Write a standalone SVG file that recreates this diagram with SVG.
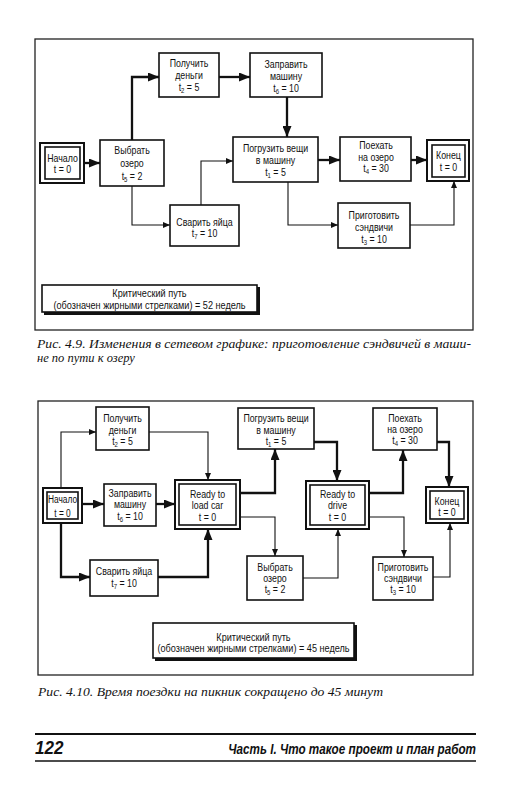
<svg xmlns="http://www.w3.org/2000/svg" width="509" height="800" viewBox="0 0 509 800">
<defs>
<style>
.bg{fill:#fff}
.frame{fill:none;stroke:#222;stroke-width:1.3}
.box{fill:#fff;stroke:#111;stroke-width:1.6}
.outer{fill:#fff;stroke:#111;stroke-width:2}
.inner{fill:none;stroke:#111;stroke-width:1.6}
.t{font-family:"Liberation Sans Narrow","Liberation Sans",Arial,sans-serif;font-size:11px;fill:#111;text-anchor:middle}
.sub{font-size:7.5px}
.thick{fill:none;stroke:#111;stroke-width:2.3}
.thin{fill:none;stroke:#111;stroke-width:1.1}
.cap{font-family:"Liberation Serif","Times New Roman",serif;font-style:italic;font-size:12.5px;fill:#111}
.foot{font-family:"Liberation Sans",Arial,sans-serif;font-style:italic;font-weight:bold;fill:#111}
</style>
<marker id="ah" markerUnits="userSpaceOnUse" markerWidth="11" markerHeight="9" refX="11" refY="4.5" orient="auto"><path d="M0,0 L11,4.5 L0,9 Z" fill="#111"/></marker>
<marker id="as" markerUnits="userSpaceOnUse" markerWidth="7" markerHeight="6" refX="7" refY="3" orient="auto"><path d="M0,0 L7,3 L0,6 Z" fill="#111"/></marker>
</defs>
<rect class="bg" x="0" y="0" width="509" height="800"/>

<!-- ===== Figure 4.9 ===== -->
<rect class="frame" x="35" y="39" width="438" height="291"/>

<g id="connectors1">
<path class="thick" d="M84,163 H100" marker-end="url(#ah)"/>
<path class="thick" d="M132,140 V77 H159" marker-end="url(#ah)"/>
<path class="thick" d="M219,77 H250" marker-end="url(#ah)"/>
<path class="thick" d="M287,97 V137" marker-end="url(#ah)"/>
<path class="thick" d="M318,160 H340" marker-end="url(#ah)"/>
<path class="thick" d="M411,160 H427" marker-end="url(#ah)"/>
<path class="thin" d="M132,186 V225 H170" marker-end="url(#as)"/>
<path class="thin" d="M201,205 V161 H233" marker-end="url(#as)"/>
<path class="thin" d="M288,182 V225 H338" marker-end="url(#as)"/>
<path class="thin" d="M410,225 H454 V181" marker-end="url(#as)"/>
</g>

<g id="n1-start">
<rect class="outer" x="40" y="143" width="44" height="40"/>
<rect class="inner" x="45" y="147" width="35" height="32"/>
<text class="t" transform="translate(62.5 0) scale(0.8 1)" y="162">Начало</text>
<text class="t" transform="translate(62.5 0) scale(0.8 1)" y="173">t = 0</text>
</g>
<g id="n1-choose">
<rect class="box" x="100" y="140" width="64" height="46"/>
<text class="t" transform="translate(132 0) scale(0.8 1)" y="154">Выбрать</text>
<text class="t" transform="translate(132 0) scale(0.8 1)" y="167">озеро</text>
<text class="t" transform="translate(132 0) scale(0.8 1)" y="180">t<tspan class="sub" dy="2">5</tspan><tspan dy="-2"> = 2</tspan></text>
</g>
<g id="n1-money">
<rect class="box" x="159" y="53" width="60" height="44"/>
<text class="t" transform="translate(189 0) scale(0.8 1)" y="67">Получить</text>
<text class="t" transform="translate(189 0) scale(0.8 1)" y="79">деньги</text>
<text class="t" transform="translate(189 0) scale(0.8 1)" y="91">t<tspan class="sub" dy="2">2</tspan><tspan dy="-2"> = 5</tspan></text>
</g>
<g id="n1-fuel">
<rect class="box" x="250" y="53" width="72" height="44"/>
<text class="t" transform="translate(286 0) scale(0.8 1)" y="68">Заправить</text>
<text class="t" transform="translate(286 0) scale(0.8 1)" y="80">машину</text>
<text class="t" transform="translate(286 0) scale(0.8 1)" y="92">t<tspan class="sub" dy="2">6</tspan><tspan dy="-2"> = 10</tspan></text>
</g>
<g id="n1-load">
<rect class="box" x="233" y="137" width="85" height="45"/>
<text class="t" transform="translate(275.5 0) scale(0.8 1)" y="152">Погрузить вещи</text>
<text class="t" transform="translate(275.5 0) scale(0.8 1)" y="164">в машину</text>
<text class="t" transform="translate(275.5 0) scale(0.8 1)" y="176">t<tspan class="sub" dy="2">1</tspan><tspan dy="-2"> = 5</tspan></text>
</g>
<g id="n1-drive">
<rect class="box" x="340" y="137" width="71" height="44"/>
<text class="t" transform="translate(376 0) scale(0.8 1)" y="149">Поехать</text>
<text class="t" transform="translate(376 0) scale(0.8 1)" y="161">на озеро</text>
<text class="t" transform="translate(376 0) scale(0.8 1)" y="172">t<tspan class="sub" dy="2">4</tspan><tspan dy="-2"> = 30</tspan></text>
</g>
<g id="n1-end">
<rect class="outer" x="427" y="140" width="42" height="41"/>
<rect class="inner" x="432" y="145" width="33" height="32"/>
<text class="t" transform="translate(448.5 0) scale(0.8 1)" y="159">Конец</text>
<text class="t" transform="translate(448.5 0) scale(0.8 1)" y="171">t = 0</text>
</g>
<g id="n1-eggs">
<rect class="box" x="170" y="205" width="69" height="41"/>
<text class="t" transform="translate(204.5 0) scale(0.8 1)" y="226">Сварить яйца</text>
<text class="t" transform="translate(204.5 0) scale(0.8 1)" y="237">t<tspan class="sub" dy="2">7</tspan><tspan dy="-2"> = 10</tspan></text>
</g>
<g id="n1-sandw">
<rect class="box" x="338" y="203" width="72" height="45"/>
<text class="t" transform="translate(374 0) scale(0.8 1)" y="219">Приготовить</text>
<text class="t" transform="translate(374 0) scale(0.8 1)" y="231">сэндвичи</text>
<text class="t" transform="translate(374 0) scale(0.8 1)" y="243">t<tspan class="sub" dy="2">3</tspan><tspan dy="-2"> = 10</tspan></text>
</g>
<g id="n1-crit">
<rect x="44" y="287" width="216" height="28" fill="#111"/>
<rect class="box" x="42" y="285" width="215" height="27"/>
<text class="t" transform="translate(149.5 0) scale(0.83 1)" y="297.5">Критический путь</text>
<text class="t" transform="translate(149.5 0) scale(0.83 1)" y="309.5">(обозначен жирными стрелками) = 52 недель</text>
</g>

<text class="cap" x="37" y="348" textLength="434" lengthAdjust="spacingAndGlyphs">Рис. 4.9. Изменения в сетевом графике: приготовление сэндвичей в маши-</text>
<text class="cap" x="37" y="362">не по пути к озеру</text>

<!-- ===== Figure 4.10 ===== -->
<rect class="frame" x="38" y="401" width="435" height="274"/>

<g id="connectors2">
<path class="thick" d="M82,504 H104" marker-end="url(#ah)"/>
<path class="thick" d="M156,504 H175" marker-end="url(#ah)"/>
<path class="thick" d="M61,523 V577 H90" marker-end="url(#ah)"/>
<path class="thick" d="M158,577 H208 V529" marker-end="url(#ah)"/>
<path class="thick" d="M240,493 H275 V449" marker-end="url(#ah)"/>
<path class="thick" d="M314,442 H337 V481" marker-end="url(#ah)"/>
<path class="thick" d="M369,493 H403 V450" marker-end="url(#ah)"/>
<path class="thick" d="M437,442 H449 V487" marker-end="url(#ah)"/>
<path class="thin" d="M61,488 V432 H96" marker-end="url(#as)"/>
<path class="thin" d="M149,432 H208 V480" marker-end="url(#as)"/>
<path class="thin" d="M240,517 H275 V556" marker-end="url(#as)"/>
<path class="thin" d="M303,578 H338 V529" marker-end="url(#as)"/>
<path class="thin" d="M369,517 H404 V557" marker-end="url(#as)"/>
<path class="thin" d="M433,577 H450 V523" marker-end="url(#as)"/>
</g>

<g id="n2-money">
<rect class="box" x="96" y="407" width="53" height="43"/>
<text class="t" transform="translate(122.5 0) scale(0.8 1)" y="422">Получить</text>
<text class="t" transform="translate(122.5 0) scale(0.8 1)" y="434">деньги</text>
<text class="t" transform="translate(122.5 0) scale(0.8 1)" y="445">t<tspan class="sub" dy="2">2</tspan><tspan dy="-2"> = 5</tspan></text>
</g>
<g id="n2-start">
<rect class="outer" x="43" y="488" width="39" height="35"/>
<rect class="inner" x="47" y="492" width="31" height="27"/>
<text class="t" transform="translate(62.5 0) scale(0.76 1)" y="503">Начало</text>
<text class="t" transform="translate(62.5 0) scale(0.76 1)" y="517">t = 0</text>
</g>
<g id="n2-fuel">
<rect class="box" x="104" y="484" width="52" height="42"/>
<text class="t" transform="translate(130 0) scale(0.8 1)" y="497">Заправить</text>
<text class="t" transform="translate(130 0) scale(0.8 1)" y="508">машину</text>
<text class="t" transform="translate(130 0) scale(0.8 1)" y="520">t<tspan class="sub" dy="2">6</tspan><tspan dy="-2"> = 10</tspan></text>
</g>
<g id="n2-readyload">
<rect class="outer" x="175" y="480" width="65" height="49"/>
<rect class="inner" x="179" y="484" width="57" height="41"/>
<text class="t" transform="translate(207.5 0) scale(0.8 1)" y="498">Ready to</text>
<text class="t" transform="translate(207.5 0) scale(0.8 1)" y="509">load car</text>
<text class="t" transform="translate(207.5 0) scale(0.8 1)" y="521">t = 0</text>
</g>
<g id="n2-eggs">
<rect class="box" x="90" y="560" width="68" height="36"/>
<text class="t" transform="translate(124 0) scale(0.8 1)" y="575">Сварить яйца</text>
<text class="t" transform="translate(124 0) scale(0.8 1)" y="587">t<tspan class="sub" dy="2">7</tspan><tspan dy="-2"> = 10</tspan></text>
</g>
<g id="n2-load">
<rect class="box" x="238" y="408" width="76" height="41"/>
<text class="t" transform="translate(276 0) scale(0.8 1)" y="422">Погрузить вещи</text>
<text class="t" transform="translate(276 0) scale(0.8 1)" y="434">в машину</text>
<text class="t" transform="translate(276 0) scale(0.8 1)" y="445">t<tspan class="sub" dy="2">1</tspan><tspan dy="-2"> = 5</tspan></text>
</g>
<g id="n2-choose">
<rect class="box" x="247" y="556" width="56" height="44"/>
<text class="t" transform="translate(275 0) scale(0.8 1)" y="571">Выбрать</text>
<text class="t" transform="translate(275 0) scale(0.8 1)" y="582">озеро</text>
<text class="t" transform="translate(275 0) scale(0.8 1)" y="593">t<tspan class="sub" dy="2">5</tspan><tspan dy="-2"> = 2</tspan></text>
</g>
<g id="n2-readydrive">
<rect class="outer" x="306" y="481" width="63" height="48"/>
<rect class="inner" x="310" y="485" width="55" height="40"/>
<text class="t" transform="translate(337.5 0) scale(0.8 1)" y="498">Ready to</text>
<text class="t" transform="translate(337.5 0) scale(0.8 1)" y="509">drive</text>
<text class="t" transform="translate(337.5 0) scale(0.8 1)" y="521">t = 0</text>
</g>
<g id="n2-drive">
<rect class="box" x="373" y="408" width="64" height="42"/>
<text class="t" transform="translate(405 0) scale(0.8 1)" y="422">Поехать</text>
<text class="t" transform="translate(405 0) scale(0.8 1)" y="433">на озеро</text>
<text class="t" transform="translate(405 0) scale(0.8 1)" y="444">t<tspan class="sub" dy="2">4</tspan><tspan dy="-2"> = 30</tspan></text>
</g>
<g id="n2-end">
<rect class="outer" x="426" y="487" width="42" height="36"/>
<rect class="inner" x="430" y="491" width="34" height="28"/>
<text class="t" transform="translate(447 0) scale(0.8 1)" y="505">Конец</text>
<text class="t" transform="translate(447 0) scale(0.8 1)" y="516">t = 0</text>
</g>
<g id="n2-sandw">
<rect class="box" x="373" y="557" width="60" height="43"/>
<text class="t" transform="translate(403 0) scale(0.8 1)" y="571">Приготовить</text>
<text class="t" transform="translate(403 0) scale(0.8 1)" y="582">сэндвичи</text>
<text class="t" transform="translate(403 0) scale(0.8 1)" y="593">t<tspan class="sub" dy="2">3</tspan><tspan dy="-2"> = 10</tspan></text>
</g>
<g id="n2-crit">
<rect x="155" y="625" width="202" height="36" fill="#111"/>
<rect class="box" x="153" y="623" width="201" height="35"/>
<text class="t" transform="translate(253.5 0) scale(0.83 1)" y="641">Критический путь</text>
<text class="t" transform="translate(253.5 0) scale(0.83 1)" y="652">(обозначен жирными стрелками) = 45 недель</text>
</g>

<text class="cap" x="38" y="696" textLength="345" lengthAdjust="spacingAndGlyphs">Рис. 4.10. Время поездки на пикник сокращено до 45 минут</text>

<!-- footer -->
<line x1="35" y1="734" x2="476" y2="734" stroke="#111" stroke-width="2.2"/>
<line x1="35" y1="761" x2="476" y2="761" stroke="#111" stroke-width="1.6"/>
<text class="foot" transform="translate(35 0) scale(0.95 1)" y="754" style="font-size:18px">122</text>
<text class="foot" transform="translate(476 0) scale(0.78 1)" y="754" style="font-size:15px;text-anchor:end">Часть I. Что такое проект и план работ</text>
</svg>
